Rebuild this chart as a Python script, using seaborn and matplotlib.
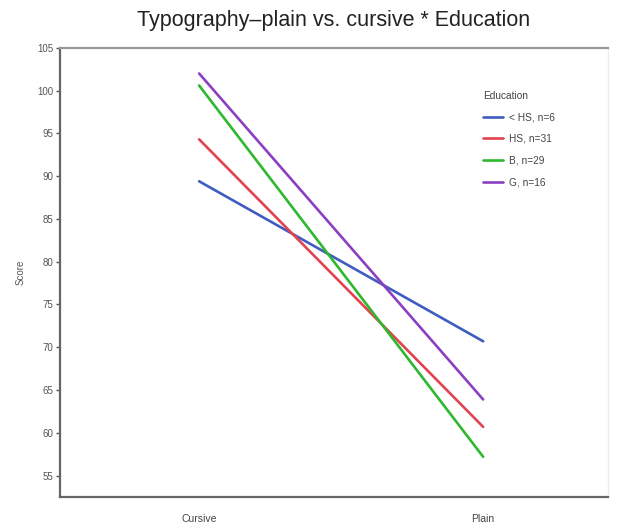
import pandas as pd
import matplotlib.pyplot as plt
import seaborn as sns

# === Data ===
typography = ["Cursive", "Plain"]
groups = ["< HS, n=6", "HS, n=31", "B, n=29", "G, n=16"]
lt_hs = [89.4, 70.7]
hs = [94.3, 60.7]
bach = [100.6, 57.2]
grad = [102.0, 63.9]
colors = ["#3f5cc0", "#e2434f", "#2eb82e", "#8c3fc0"]
yticks = [55, 60, 65, 70, 75, 80, 85, 90, 95, 100, 105]

rows = []
for g, vals in zip(groups, [lt_hs, hs, bach, grad]):
    for t, v in zip(typography, vals):
        rows.append({"Typography": t, "Score": v, "Education": g})
df = pd.DataFrame(rows)

# --- Plotting ---
sns.set_style("white")
plt.rcParams["font.family"] = ["Liberation Sans", "DejaVu Sans"]

fig = plt.figure(figsize=(6.18, 5.31), dpi=100)
ax = fig.add_axes([0.097, 0.064, 0.887, 0.846])

sns.lineplot(data=df, x="Typography", y="Score", hue="Education",
             hue_order=groups, palette=colors, linewidth=1.9, ax=ax)

ax.set_xlim(-0.49, 1.44)
ax.set_ylim(52.5, 105)
ax.set_yticks(yticks)
ax.set_yticklabels([str(v) for v in yticks], fontsize=7, color="#555555")
ax.tick_params(axis="y", left=True, length=3, width=1, color="#555555", pad=2)
ax.tick_params(axis="x", bottom=False, labelsize=7.5, labelcolor="#444444", pad=9)

# --- Frame ---
for side in ["left", "bottom"]:
    ax.spines[side].set_color("#666666")
    ax.spines[side].set_linewidth(1.6)
ax.spines["top"].set_color("#999999")
ax.spines["top"].set_linewidth(1.6)
ax.spines["right"].set_color("#eeeeee")
ax.spines["right"].set_linewidth(1.0)

# --- Titles & labels ---
ax.set_title("Typography\u2013plain vs. cursive * Education",
             fontsize=15.5, color="#222222", pad=16)
ax.set_xlabel("")
ax.set_ylabel("Score", fontsize=7, color="#555555", labelpad=8)

leg = ax.legend(title="Education", frameon=False, loc="upper left",
                bbox_to_anchor=(0.755, 0.925), fontsize=7.3, title_fontsize=7.3,
                handlelength=2.0, labelspacing=1.15, handletextpad=0.6)
for t in leg.get_texts():
    t.set_color("#444444")
leg.get_title().set_color("#444444")
leg._legend_box.align = "left"

plt.savefig("out.png", dpi=100)
